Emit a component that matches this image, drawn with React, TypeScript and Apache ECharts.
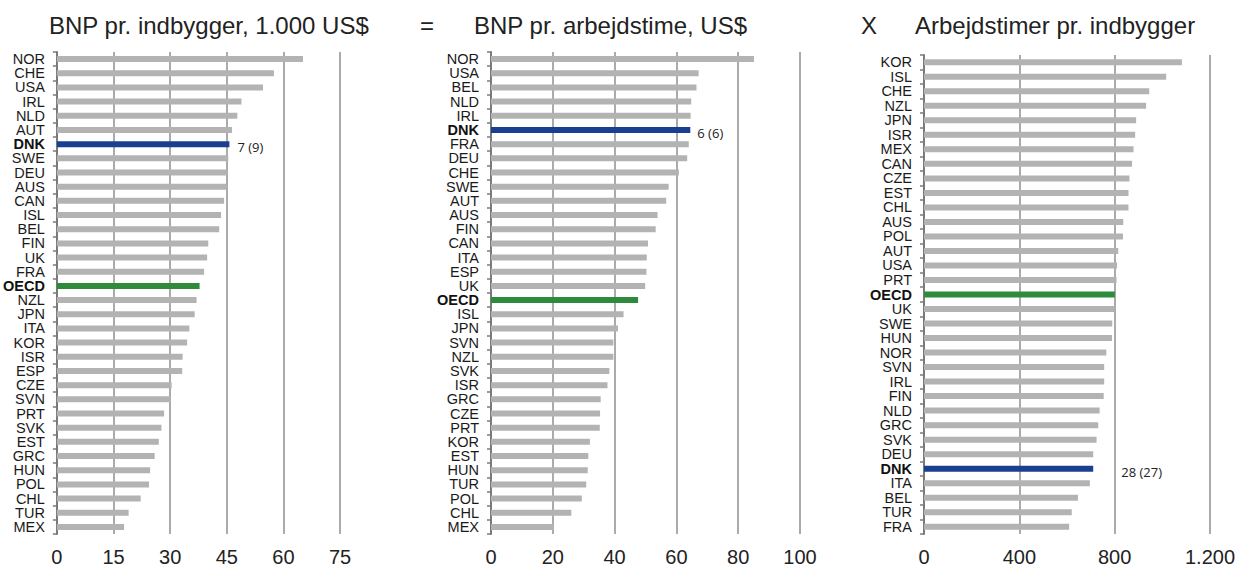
import React, { useEffect, useRef } from "react";
import * as echarts from "echarts";

// Panel 1: BNP pr. indbygger, 1.000 US$
const cat1 = ["NOR","CHE","USA","IRL","NLD","AUT","DNK","SWE","DEU","AUS","CAN","ISL","BEL","FIN","UK","FRA","OECD","NZL","JPN","ITA","KOR","ISR","ESP","CZE","SVN","PRT","SVK","EST","GRC","HUN","POL","CHL","TUR","MEX"];
const val1 = [65.2,57.5,54.6,48.9,47.8,46.4,45.7,45.4,45.2,45.1,44.3,43.5,43.0,40.1,39.8,39.0,37.8,37.0,36.5,35.1,34.5,33.3,33.2,30.4,30.1,28.4,27.7,27.0,25.9,24.7,24.4,22.2,19.0,17.8];

// Panel 2: BNP pr. arbejdstime, US$
const cat2 = ["NOR","USA","BEL","NLD","IRL","DNK","FRA","DEU","CHE","SWE","AUT","AUS","FIN","CAN","ITA","ESP","UK","OECD","ISL","JPN","SVN","NZL","SVK","ISR","GRC","CZE","PRT","KOR","EST","HUN","TUR","POL","CHL","MEX"];
const val2 = [85.1,67.2,66.5,64.8,64.6,64.5,64.0,63.5,60.8,57.5,56.7,53.9,53.3,50.8,50.4,50.3,49.9,47.6,42.9,41.1,39.6,39.6,38.3,37.7,35.5,35.3,35.2,32.0,31.5,31.3,30.8,29.4,26.0,20.4];

// Panel 3: Arbejdstimer pr. indbygger
const cat3 = ["KOR","ISL","CHE","NZL","JPN","ISR","MEX","CAN","CZE","EST","CHL","AUS","POL","AUT","USA","PRT","OECD","UK","SWE","HUN","NOR","SVN","IRL","FIN","NLD","GRC","SVK","DEU","DNK","ITA","BEL","TUR","FRA"];
const val3 = [1082,1016,945,932,890,886,879,873,862,858,858,836,835,815,810,808,801,799,790,789,765,756,756,754,737,731,724,710,710,696,646,620,609];

const titles = ["BNP pr. indbygger, 1.000 US$", "BNP pr. arbejdstime, US$", "Arbejdstimer pr. indbygger"];
const operators = ["=", "X"];
const dnkRank = ["7 (9)", "6 (6)", "28 (27)"];
const axisMax = [75, 100, 1200];
const axisInterval = [15, 20, 400];

const GRAY = "#b3b3b3";
const BLUE = "#1a3f91";
const GREEN = "#2e8b3b";
const FONT = "'Liberation Sans', Arial, sans-serif";

const grids = [
  { left: 55, top: 52, width: 285, height: 482 },
  { left: 491, top: 52, width: 309, height: 482 },
  { left: 924, top: 55, width: 286, height: 479 },
];
const labelDist = [8, 7, 28];

function fmt(v: number) {
  return String(v).replace(/\B(?=(\d{3})+(?!\d))/g, ".");
}

export default function App() {
  const ref = useRef<HTMLDivElement>(null);
  useEffect(() => {
    document.body.style.margin = "0";
    const chart = echarts.init(ref.current!, null, { renderer: "svg" });
    const cats = [cat1, cat2, cat3];
    const vals = [val1, val2, val3];

    const xAxis = cats.map((_, i) => ({
      type: "value",
      gridIndex: i,
      min: 0,
      max: axisMax[i],
      interval: axisInterval[i],
      axisLine: { show: false },
      axisTick: { show: false },
      splitLine: { show: true, lineStyle: { color: "#8f8f8f", width: 1.5 } },
      axisLabel: { fontSize: 20, color: "#222", fontFamily: FONT, margin: 13, formatter: (v: number) => fmt(v) },
    }));
    const yAxis = cats.map((c, i) => ({
      type: "category",
      gridIndex: i,
      data: c,
      inverse: true,
      axisLine: { show: true, lineStyle: { color: "#7a7a7a", width: 2 } },
      axisTick: { show: true, length: 4, lineStyle: { color: "#7a7a7a", width: 1.5 } },
      axisLabel: {
        fontSize: 14.5,
        color: "#1a1a1a",
        fontFamily: FONT,
        margin: 12,
        interval: 0,
        formatter: (v: string) => (v === "DNK" || v === "OECD" ? `{b|${v}}` : v),
        rich: { b: { fontWeight: "bold", fontSize: 14.5, fontFamily: FONT, color: "#111" } },
      },
    }));
    const series = cats.map((c, i) => ({
      type: "bar",
      xAxisIndex: i,
      yAxisIndex: i,
      barWidth: 6,
      z: 3,
      data: vals[i].map((v, k) => {
        const name = c[k];
        if (name === "DNK") {
          return {
            value: v,
            itemStyle: { color: BLUE },
            label: {
              show: true,
              position: "right",
              distance: labelDist[i],
              offset: [0, 3],
              formatter: dnkRank[i],
              fontSize: 13,
              color: "#222",
              fontFamily: "'Open Sans', sans-serif",
            },
          };
        }
        if (name === "OECD") return { value: v, itemStyle: { color: GREEN } };
        return { value: v, itemStyle: { color: GRAY } };
      }),
    }));

    const titleFont = `24px ${FONT}`;
    const graphic = [
      { type: "text", x: 49, y: 25, style: { text: titles[0], font: titleFont, fill: "#222", textVerticalAlign: "middle" } },
      { type: "text", x: 420, y: 25, style: { text: operators[0], font: titleFont, fill: "#222", textVerticalAlign: "middle" } },
      { type: "text", x: 474, y: 25, style: { text: titles[1], font: titleFont, fill: "#222", textVerticalAlign: "middle" } },
      { type: "text", x: 861, y: 25, style: { text: operators[1], font: titleFont, fill: "#222", textVerticalAlign: "middle" } },
      { type: "text", x: 915, y: 25, style: { text: titles[2], font: titleFont, fill: "#222", textVerticalAlign: "middle" } },
    ];

    chart.setOption({
      animation: false,
      backgroundColor: "#fff",
      grid: grids.map((g) => ({ ...g, containLabel: false })),
      xAxis,
      yAxis,
      series,
      graphic,
    });
    return () => chart.dispose();
  }, []);
  return <div ref={ref} style={{ position: "absolute", left: 0, top: 0, width: 1239, height: 567 }} />;
}
